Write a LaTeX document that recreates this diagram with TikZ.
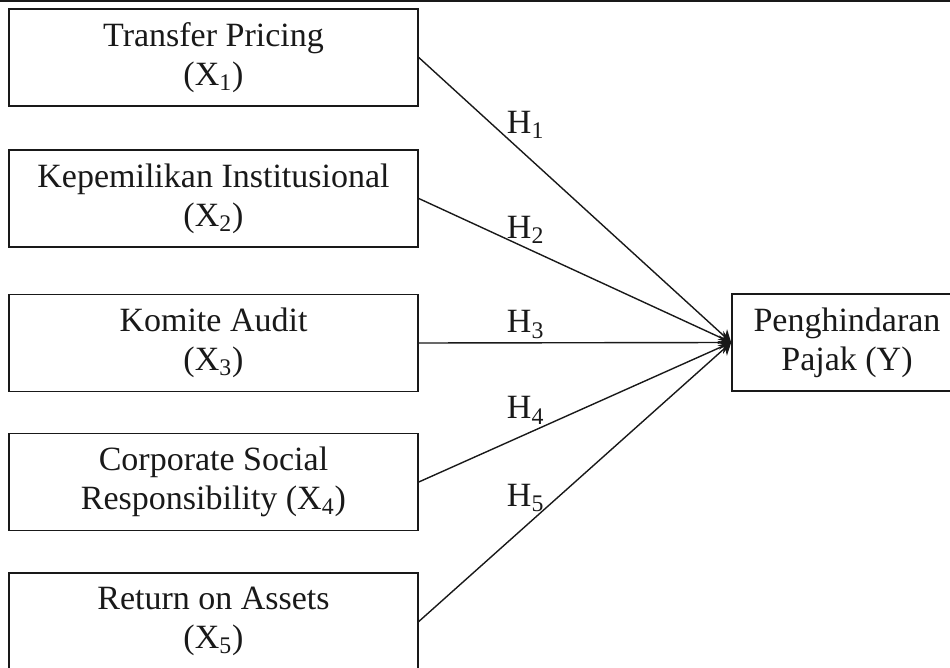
\documentclass[tikz,border=0pt]{standalone}
\usepackage{fontspec}
\setmainfont{Liberation Serif}
\usetikzlibrary{arrows.meta, positioning}
\definecolor{inkcolor}{RGB}{25,25,25}
\tikzset{
  varbox/.style = {draw=inkcolor, line width=0.8pt, fill=white, align=center,
                   minimum width=204.5pt, minimum height=48.5pt, inner sep=2pt,
                   font=\fontsize{17}{19.5}\selectfont, text=inkcolor},
  depbox/.style = {varbox, minimum width=150pt},
  arrow/.style  = {-{Stealth[length=6pt, width=7pt]}, line width=0.7pt, color=inkcolor},
  hlabel/.style = {anchor=base west, inner sep=0pt, font=\fontsize{17}{19.5}\selectfont,
                   text=inkcolor},
}
\begin{document}
\begin{tikzpicture}[x=0.5pt, y=-0.5pt]
  \useasboundingbox (0,0) rectangle (950,668);
  % top rule of the table
  \draw[line width=1pt, inkcolor] (0,1) -- (950,1);
  % independent variables
  \node[varbox] (x1) at (213.5, 57.5)  {Transfer Pricing\\(X\textsubscript{1})};
  \node[varbox] (x2) at (213.5, 198.5) {Kepemilikan Institusional\\(X\textsubscript{2})};
  \node[varbox] (x3) at (213.5, 343)   {Komite Audit\\(X\textsubscript{3})};
  \node[varbox] (x4) at (213.5, 482)   {Corporate Social\\Responsibility (X\textsubscript{4})};
  \node[varbox] (x5) at (213.5, 621.5) {Return on Assets\\(X\textsubscript{5})};
  % dependent variable (right side runs off the page)
  \node[depbox] (y) at (882, 342.5) {Penghindaran\hspace*{35pt}\\Pajak (Y)\hspace*{35pt}};
  % hypotheses
  \foreach \i/\rs in {1/2, 2/0, 3/5, 4/12, 5/18.5} {
    \draw[arrow] (x\i.east) -- node[hlabel, pos=0.28, yshift=\rs pt] {H\textsubscript{\i}} (y.west);
  }
\end{tikzpicture}
\end{document}
